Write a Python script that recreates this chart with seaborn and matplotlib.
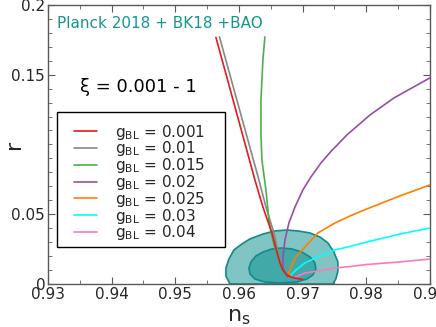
import numpy as np
import pandas as pd
import matplotlib
matplotlib.use("Agg")
import matplotlib.pyplot as plt
import seaborn as sns
from matplotlib.patches import Rectangle
from matplotlib.ticker import MultipleLocator, FixedLocator, FixedFormatter

# --- dados ---
ns_red = [0.95639, 0.96251, 0.96377, 0.96518, 0.96597, 0.96644, 0.96691, 0.96754, 0.96832, 0.97005]
r_red = [0.1767, 0.0746, 0.0552, 0.0366, 0.0229, 0.0151, 0.0100, 0.0065, 0.0047, 0.0032]

ns_gray = [0.95694, 0.96314, 0.96424, 0.96550, 0.96613, 0.96660, 0.96691, 0.96754, 0.96832, 0.97005]
r_gray = [0.1771, 0.0746, 0.0552, 0.0366, 0.0229, 0.0151, 0.0100, 0.0065, 0.0047, 0.0032]

ns_green = [0.96408, 0.96377, 0.96346, 0.96346, 0.96361, 0.96424, 0.96440, 0.96471, 0.96503,
            0.96550, 0.96613, 0.96660, 0.96691, 0.96754, 0.96832]
r_green = [0.1771, 0.1606, 0.1319, 0.1068, 0.0889, 0.0674, 0.0602, 0.0459, 0.0373,
           0.0280, 0.0194, 0.0143, 0.0100, 0.0065, 0.0047]

ns_purple = [0.96770, 0.96723, 0.96691, 0.96691, 0.96723, 0.96785, 0.96880, 0.97005,
             0.97131, 0.97288, 0.97445, 0.97696, 0.98058, 0.98435, 0.99000]
r_purple = [0.0050, 0.0079, 0.0122, 0.0194, 0.0315, 0.0437, 0.0552, 0.0674,
            0.0767, 0.0867, 0.0950, 0.1068, 0.1211, 0.1333, 0.1477]

ns_orange = [0.96801, 0.96785, 0.96817, 0.96895, 0.97037, 0.97241, 0.97508, 0.97743,
             0.98010, 0.98529, 0.99000]
r_orange = [0.0050, 0.0079, 0.0122, 0.0194, 0.0265, 0.0366, 0.0437, 0.0487,
            0.0538, 0.0631, 0.0710]

ns_cyan = [0.96817, 0.96817, 0.96895, 0.97037, 0.97241, 0.97508, 0.97743, 0.98010, 0.98529, 0.99000]
r_cyan = [0.0050, 0.0065, 0.0100, 0.0151, 0.0194, 0.0244, 0.0269, 0.0301, 0.0358, 0.0401]

ns_pink = [0.96848, 0.96927, 0.97037, 0.97241, 0.97508, 0.97743, 0.98010, 0.98529, 0.99000]
r_pink = [0.0043, 0.0057, 0.0079, 0.0093, 0.0115, 0.0125, 0.0140, 0.0158, 0.0179]

# contornos Planck 2018 + BK18 + BAO (68% e 95%)
ns_95 = [0.95859, 0.95796, 0.95796, 0.95843, 0.95921, 0.96047, 0.96173, 0.96377, 0.96565,
         0.96754, 0.96927, 0.97115, 0.97272, 0.97398, 0.97492, 0.97555, 0.97555, 0.97523, 0.97476]
r_95 = [0.0, 0.0057, 0.0115, 0.0179, 0.0244, 0.0287, 0.0323, 0.0358, 0.0380,
        0.0387, 0.0380, 0.0366, 0.0337, 0.0294, 0.0229, 0.0158, 0.0093, 0.0036, 0.0]

ns_68 = [0.96157, 0.96189, 0.96267, 0.96377, 0.96518, 0.96675, 0.96832, 0.96989, 0.97115,
         0.97194, 0.97209, 0.97162, 0.97068, 0.96911, 0.96644, 0.96408, 0.96251, 0.96173]
r_68 = [0.0115, 0.0158, 0.0201, 0.0229, 0.0251, 0.0258, 0.0251, 0.0229, 0.0194,
        0.0151, 0.0108, 0.0065, 0.0036, 0.0014, 0.0007, 0.0014, 0.0036, 0.0072]

labels = ['0.001', '0.01', '0.015', '0.02', '0.025', '0.03', '0.04']
cores = ['#e41a1c', '#888888', '#4daf4a', '#984ea3', '#ff7f00', '#00ffff', '#ff77c0']

x_ticks = [0.93, 0.94, 0.95, 0.96, 0.97, 0.98, 0.99]
y_ticks = [0, 0.05, 0.15, 0.2]
y_ticklabels = ['0', '0.05', '0.15', '0.2']

# --- montagem da tabela ---
curvas = [(ns_red, r_red), (ns_gray, r_gray), (ns_green, r_green), (ns_purple, r_purple),
          (ns_orange, r_orange), (ns_cyan, r_cyan), (ns_pink, r_pink)]
partes = []
for lab, (xs, ys) in zip(labels, curvas):
    nome = r'g$_{\mathrm{BL}}$ = ' + lab
    partes.append(pd.DataFrame({'ns': xs, 'r': ys, 'g': nome}))
df = pd.concat(partes, ignore_index=True)
nomes = list(df['g'].unique())
paleta = dict(zip(nomes, cores))

sns.set_style('ticks')
plt.rcParams['font.family'] = ['DejaVu Sans']
plt.rcParams['mathtext.default'] = 'regular'

fig = plt.figure(figsize=(4.36, 3.27), dpi=100)
ax = fig.add_axes([0.110, 0.1315, 0.876, 0.8535])

# contornos
ax.fill(ns_95, r_95, facecolor='#80c4c4', edgecolor='#138a8a', lw=1.2, zorder=1)
ax.fill(ns_68, r_68, facecolor='#42a9a9', edgecolor='#138a8a', lw=1.2, zorder=2)

# curvas (vermelho por cima)
ordem_z = {nomes[0]: 10, nomes[1]: 5}
for nome in nomes[::-1]:
    sub = df[df['g'] == nome]
    sns.lineplot(data=sub, x='ns', y='r', color=paleta[nome], sort=False, estimator=None,
                 lw=1.2, ax=ax, zorder=ordem_z.get(nome, 6), label=nome)

handles, labs = ax.get_legend_handles_labels()
handles, labs = handles[::-1], labs[::-1]
leg = ax.legend(handles, labs, loc='upper left', bbox_to_anchor=(0.068, 0.578),
                fontsize=11, frameon=False, handlelength=1.5, handletextpad=1.2,
                labelspacing=-0.145, borderpad=0, borderaxespad=0)
# moldura da legenda
ax.add_patch(Rectangle((0.0236, 0.1326), 0.4398, 0.4839, transform=ax.transAxes,
                       fill=False, edgecolor='black', lw=1.0, zorder=20))

ax.set_xlim(0.93, 0.99)
ax.set_ylim(0, 0.2)
ax.xaxis.set_major_locator(FixedLocator(x_ticks))
ax.xaxis.set_minor_locator(MultipleLocator(0.005))
ax.yaxis.set_major_locator(FixedLocator(y_ticks))
ax.yaxis.set_major_formatter(FixedFormatter(y_ticklabels))
ax.yaxis.set_minor_locator(MultipleLocator(0.01))
ax.set_xticklabels([f'{v:g}' for v in x_ticks])
ax.tick_params(which='both', direction='in', top=True, right=True, color='0.35', labelsize=11,
               pad=2)
ax.tick_params(which='major', length=5)
ax.tick_params(which='minor', length=3)
for s in ax.spines.values():
    s.set_color('0.35')
    s.set_linewidth(1.0)

ax.set_xlabel(r'n$_\mathrm{s}$', fontsize=16, labelpad=4)
ax.set_ylabel('r', fontsize=16)
ax.yaxis.set_label_coords(-0.062, 0.5)

ax.text(0.024, 0.935, 'Planck 2018 + BK18 +BAO', transform=ax.transAxes, color='#14968f',
        fontsize=11, ha='left', va='center')
ax.text(0.084, 0.706, 'ξ = 0.001 - 1', transform=ax.transAxes, color='black',
        fontsize=13, ha='left', va='center')

fig.savefig('out.png', dpi=100)
plt.close(fig)
